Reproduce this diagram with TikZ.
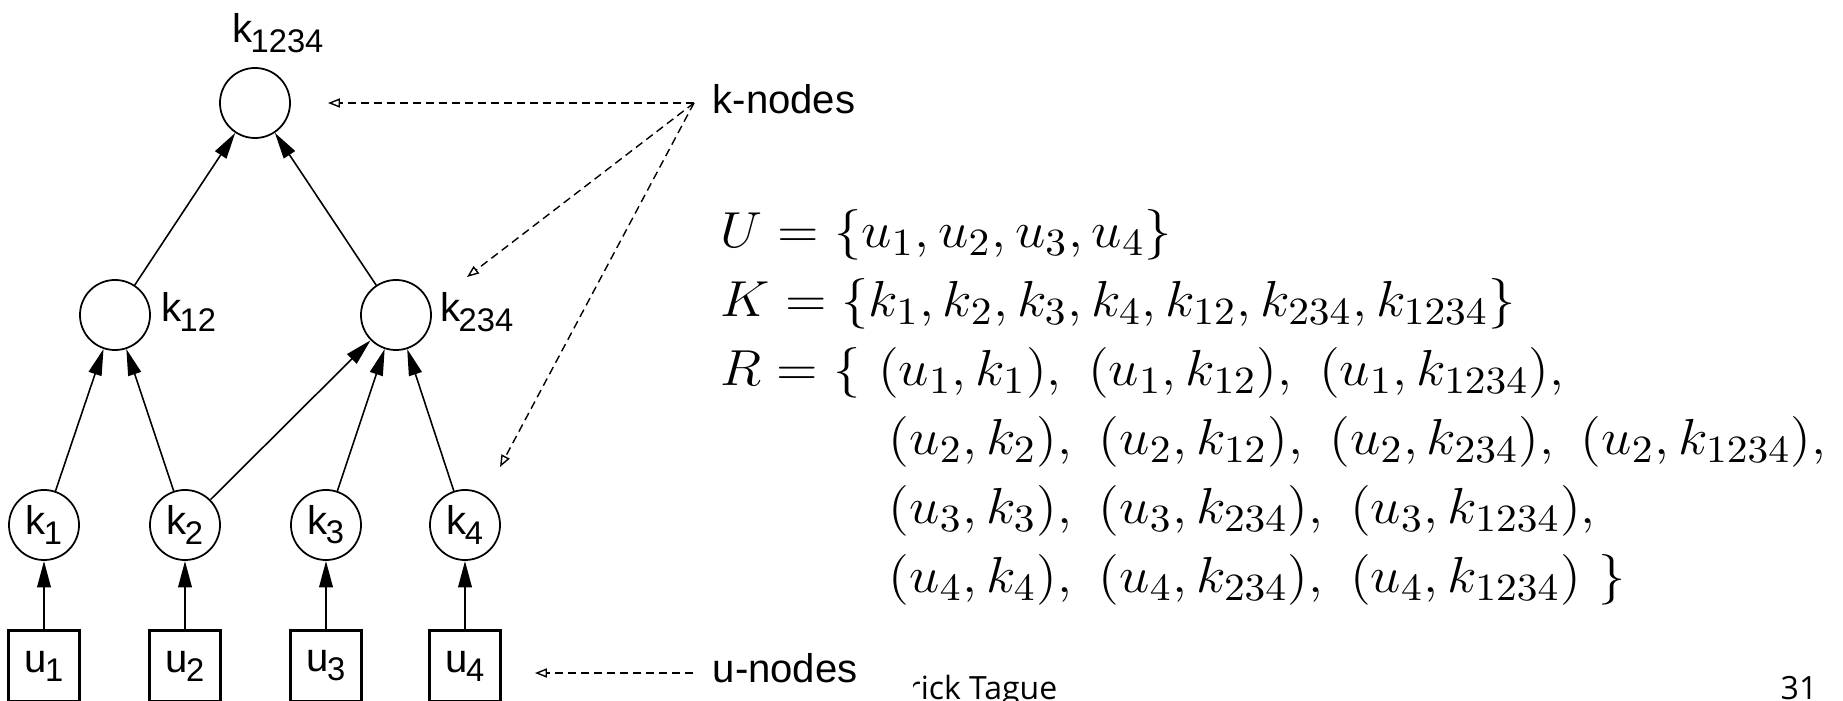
\documentclass[tikz,border=0pt]{standalone}
\usepackage{amsmath, amssymb}
\usepackage{fontspec}
\setsansfont{Liberation Sans}
\newfontfamily\slidefont{Open Sans}
\usepackage{tikz}
\usetikzlibrary{positioning, arrows.meta, shapes.geometric}

% label with a large, lowered subscript
\newcommand{\lbsub}[2]{#1\kern-0.6pt\raisebox{-2.6pt}{\fontsize{9.3}{10}\selectfont #2}}
% set lines are a bit wider than plain math
\newcommand{\wideset}[1]{\scalebox{1.075}[1]{#1}}

\tikzset{
    knode/.style={circle, draw, line width=0.5pt, minimum size=0.70cm, inner sep=0pt,
        font=\sffamily\fontsize{11.4}{12}\selectfont},
    unode/.style={rectangle, draw, line width=0.6pt, minimum width=0.71cm, minimum height=0.71cm,
        inner sep=0pt, font=\sffamily\fontsize{11.4}{12}\selectfont},
    klabel/.style={anchor=base west, inner sep=0pt, font=\sffamily\fontsize{11.4}{12}\selectfont},
    link/.style={-{Triangle[length=7.5pt, width=3.8pt]}, line width=0.45pt},
    feed/.style={-{Triangle[length=7.5pt, width=3.8pt]}, line width=0.7pt},
    pointer/.style={-{Triangle[open, length=3.4pt, width=2.6pt]}, line width=0.4pt,
        dash pattern=on 2.3pt off 1.4pt},
    setline/.style={anchor=base west, inner sep=0pt, font=\fontsize{15.4}{19.6}\selectfont}
}

\begin{document}
\begin{tikzpicture}[x=0.01cm, y=-0.01cm]
    \useasboundingbox (0,0) rectangle (1843,701);

    % k-nodes
    \node[knode] (k1234) at (255,103) {};
    \node[knode] (k12) at (115,315) {};
    \node[knode] (k234) at (396,315) {};
    \node[knode] (k1) at (44,525) {\lbsub{k}{1}};
    \node[knode] (k2) at (185,525) {\lbsub{k}{2}};
    \node[knode] (k3) at (326,525) {\lbsub{k}{3}};
    \node[knode] (k4) at (465,525) {\lbsub{k}{4}};

    \node[klabel] (l1234) at (232,43) {\lbsub{k}{1234}};
    \node[klabel] (l12) at (161,322) {\lbsub{k}{12}};
    \node[klabel] (l234) at (440,322) {\lbsub{k}{234}};

    % u-nodes
    \node[unode] (u1) at (44,666) {\lbsub{u}{1}};
    \node[unode] (u2) at (185,666) {\lbsub{u}{2}};
    \node[unode] (u3) at (326,666) {\lbsub{u}{3}};
    \node[unode] (u4) at (465,666) {\lbsub{u}{4}};

    % tree edges
    \draw[link] (k12) -- (k1234);
    \draw[link] (k234) -- (k1234);
    \draw[link] (k1) -- (k12);
    \draw[link] (k2) -- (k12);
    \draw[link] (k2) -- (k234);
    \draw[link] (k3) -- (k234);
    \draw[link] (k4) -- (k234);
    \foreach \i in {1,2,3,4}
        \draw[feed] (u\i) -- (k\i);

    % pointers to the node kinds
    \node[klabel] (kn) at (712,114) {k-nodes};
    \node[klabel] (un) at (712,683) {u-nodes};
    \coordinate (kp) at (694,103);
    \coordinate (kt1) at (328,103);
    \coordinate (kt2) at (467,277);
    \coordinate (kt3) at (500,467);
    \coordinate (up) at (693,673);
    \coordinate (ut) at (535,673);
    \draw[pointer] (kp) -- (kt1);
    \draw[pointer] (kp) -- (kt2);
    \draw[pointer] (kp) -- (kt3);
    \draw[pointer] (up) -- (ut);

    % sets U, K and R
    \node[setline] (setU) at (720,248) {\wideset{$U = \{u_1, u_2, u_3, u_4\}$}};
    \node[setline] (setK) at (720,317) {\wideset{$K = \{k_1, k_2, k_3, k_4, k_{12}, k_{234}, k_{1234}\}$}};
    \node[setline] (setR) at (720,386) {\wideset{$R = \{\ (u_1, k_1),\ (u_1, k_{12}),\ (u_1, k_{1234}),$}};
    \node[setline] (setR2) at (888,455) {\wideset{$(u_2, k_2),\ (u_2, k_{12}),\ (u_2, k_{234}),\ (u_2, k_{1234}),$}};
    \node[setline] (setR3) at (888,524) {\wideset{$(u_3, k_3),\ (u_3, k_{234}),\ (u_3, k_{1234}),$}};
    \node[setline] (setR4) at (888,593) {\wideset{$(u_4, k_4),\ (u_4, k_{234}),\ (u_4, k_{1234})\ \}$}};

    % slide footer
    \begin{scope}
        \clip (913,600) rectangle (1843,710);
        \node[anchor=base west, inner sep=0pt, font=\slidefont\fontsize{9.1}{10}\selectfont]
            (author) at (907,699) {rick Tague};
    \end{scope}
    \node[anchor=base east, inner sep=0pt, font=\slidefont\fontsize{9.1}{10}\selectfont]
        (pageno) at (1818,699) {31};
\end{tikzpicture}
\end{document}
